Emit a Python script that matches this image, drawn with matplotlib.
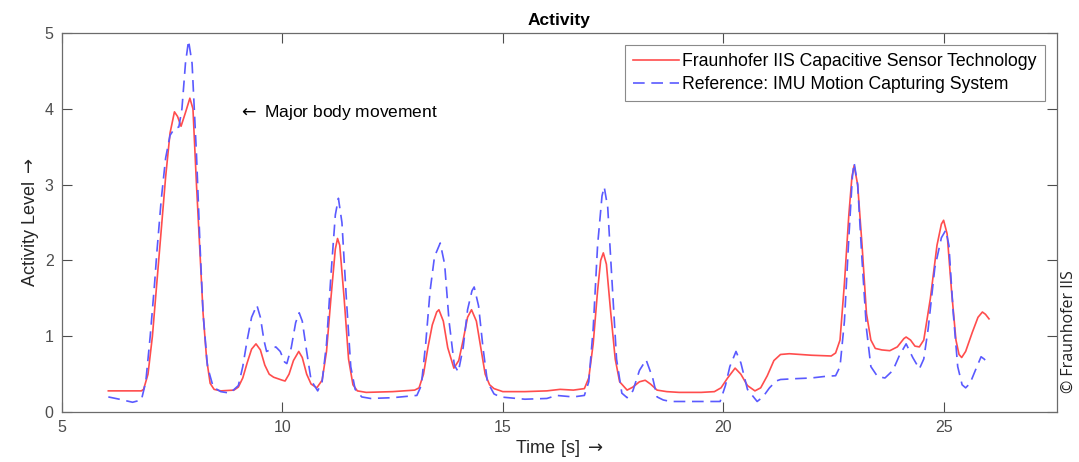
import matplotlib.pyplot as plt

plt.rcParams['font.family'] = ['Liberation Sans', 'DejaVu Sans']
plt.rcParams['mathtext.fontset'] = 'dejavusans'

# capacitive sensor (red, solid)
t_cap = [6.05, 6.4, 6.8, 6.85, 6.95, 7.05, 7.15, 7.25, 7.35, 7.45, 7.55, 7.62, 7.7, 7.8,
         7.9, 7.97, 8.05, 8.13, 8.2, 8.28, 8.36, 8.45, 8.6, 8.9, 9.0, 9.1, 9.2, 9.3,
         9.4, 9.5, 9.6, 9.7, 9.8, 9.9, 10.0, 10.06, 10.15, 10.25, 10.37, 10.45, 10.55,
         10.65, 10.78, 10.9, 11.0, 11.1, 11.2, 11.25, 11.3, 11.4, 11.5, 11.6, 11.7,
         11.9, 12.5, 13.0, 13.1, 13.2, 13.3, 13.4, 13.5, 13.55, 13.65, 13.75, 13.89,
         14.0, 14.1, 14.2, 14.29, 14.4, 14.5, 14.6, 14.7, 14.8, 15.0, 15.5, 16.0,
         16.3, 16.6, 16.85, 16.95, 17.05, 17.15, 17.22, 17.28, 17.35, 17.45, 17.55,
         17.65, 17.82, 17.95, 18.1, 18.23, 18.35, 18.5, 18.72, 19.0, 19.5, 19.8,
         19.95, 20.1, 20.27, 20.4, 20.55, 20.72, 20.85, 21.0, 21.15, 21.3, 21.5,
         22.0, 22.45, 22.55, 22.65, 22.75, 22.85, 22.92, 22.97, 23.05, 23.15, 23.25,
         23.35, 23.45, 23.6, 23.78, 23.95, 24.1, 24.15, 24.25, 24.35, 24.45, 24.55,
         24.7, 24.85, 24.95, 25.0, 25.08, 25.18, 25.28, 25.35, 25.41, 25.5, 25.65,
         25.78, 25.88, 25.95, 26.03]
cap = [0.28, 0.28, 0.28, 0.3, 0.5, 1.0, 1.7, 2.4, 3.1, 3.68, 3.96, 3.9, 3.77, 3.95,
       4.14, 4.0, 3.0, 2.1, 1.3, 0.7, 0.38, 0.3, 0.28, 0.29, 0.33, 0.45, 0.65, 0.83,
       0.9, 0.82, 0.62, 0.5, 0.46, 0.44, 0.42, 0.41, 0.5, 0.68, 0.8, 0.72, 0.5,
       0.37, 0.32, 0.42, 0.8, 1.5, 2.15, 2.29, 2.2, 1.5, 0.7, 0.36, 0.28,
       0.26, 0.27, 0.29, 0.32, 0.5, 0.85, 1.15, 1.32, 1.35, 1.2, 0.85, 0.58,
       0.68, 0.95, 1.25, 1.35, 1.2, 0.85, 0.5, 0.36, 0.31, 0.27, 0.27, 0.28,
       0.3, 0.29, 0.31, 0.45, 0.9, 1.6, 2.0, 2.1, 1.95, 1.3, 0.7,
       0.4, 0.29, 0.33, 0.4, 0.42, 0.37, 0.29, 0.27, 0.26, 0.26, 0.27,
       0.32, 0.45, 0.58, 0.5, 0.35, 0.28, 0.32, 0.48, 0.68, 0.76, 0.77,
       0.75, 0.74, 0.78, 0.95, 1.7, 2.6, 3.1, 3.25, 3.0, 2.2, 1.3,
       0.95, 0.84, 0.82, 0.81, 0.86, 0.97, 0.99, 0.95, 0.87, 0.86, 0.95,
       1.5, 2.2, 2.48, 2.53, 2.35, 1.6, 0.95, 0.76, 0.72, 0.8, 1.05,
       1.25, 1.32, 1.29, 1.23]

# IMU reference (blue, dashed)
t_imu = [6.05, 6.3, 6.6, 6.8, 6.9, 7.0, 7.1, 7.15, 7.25, 7.35, 7.45, 7.55, 7.65, 7.72,
         7.8, 7.87, 7.95, 8.05, 8.13, 8.2, 8.3, 8.43, 8.6, 8.81, 9.0, 9.1, 9.2, 9.3,
         9.42, 9.5, 9.58, 9.64, 9.75, 9.85, 9.95, 10.05, 10.1, 10.2, 10.3, 10.38,
         10.45, 10.55, 10.65, 10.8, 10.9, 11.0, 11.1, 11.2, 11.27, 11.35, 11.45,
         11.55, 11.65, 11.8, 12.0, 12.5, 13.05, 13.15, 13.25, 13.35, 13.45, 13.58,
         13.68, 13.78, 13.9, 13.99, 14.1, 14.2, 14.3, 14.35, 14.45, 14.55, 14.65,
         14.8, 14.94, 15.5, 16.0, 16.22, 16.6, 16.85, 16.95, 17.05, 17.15, 17.25,
         17.3, 17.38, 17.48, 17.58, 17.7, 17.82, 17.95, 18.1, 18.25, 18.4, 18.5,
         18.64, 18.8, 19.5, 19.93, 20.05, 20.15, 20.29, 20.4, 20.55, 20.77, 20.9,
         21.05, 21.2, 21.3, 21.6, 22.0, 22.3, 22.55, 22.65, 22.75, 22.85, 22.93,
         22.97, 23.05, 23.15, 23.25, 23.35, 23.5, 23.67, 23.85, 24.0, 24.15, 24.3,
         24.45, 24.55, 24.65, 24.8, 24.95, 25.05, 25.12, 25.22, 25.32, 25.42, 25.5,
         25.6, 25.72, 25.85, 25.92, 26.03]
imu = [0.2, 0.17, 0.13, 0.16, 0.4, 1.0, 1.7, 2.1, 2.8, 3.35, 3.65, 3.74, 3.76, 4.0,
       4.6, 4.9, 4.6, 3.4, 2.2, 1.3, 0.6, 0.33, 0.27, 0.25, 0.35, 0.6, 0.95, 1.25,
       1.41, 1.25, 0.95, 0.8, 0.83, 0.86, 0.8, 0.66, 0.64, 0.85, 1.18, 1.31,
       1.2, 0.8, 0.42, 0.28, 0.4, 0.9, 1.8, 2.6, 2.82, 2.5, 1.5,
       0.6, 0.3, 0.2, 0.18, 0.19, 0.22, 0.35, 0.9, 1.6, 2.05, 2.23,
       1.95, 1.2, 0.62, 0.53, 0.85, 1.35, 1.6, 1.65, 1.4, 0.85, 0.4,
       0.24, 0.2, 0.17, 0.18, 0.22, 0.2, 0.22, 0.4, 1.1, 2.2, 2.85,
       2.97, 2.7, 1.7, 0.7, 0.25, 0.19, 0.28, 0.55, 0.69, 0.45, 0.2,
       0.16, 0.14, 0.14, 0.14, 0.35, 0.6, 0.8, 0.65, 0.3, 0.14, 0.2,
       0.32, 0.41, 0.43, 0.44, 0.45, 0.47, 0.48, 0.6, 1.2, 2.3, 3.1,
       3.29, 3.0, 2.0, 1.1, 0.6, 0.47, 0.45, 0.55, 0.75, 0.9, 0.72,
       0.57, 0.7, 1.1, 1.9, 2.3, 2.4, 2.2, 1.3, 0.6, 0.36, 0.32,
       0.38, 0.55, 0.73, 0.7, 0.63]

fig = plt.figure(figsize=(10.79, 4.62), dpi=100)
ax = fig.add_axes([0.0575, 0.108, 0.922, 0.8206])

ax.plot(t_cap, cap, color='#ff4d4d', lw=1.2, label='Fraunhofer IIS Capacitive Sensor Technology')
ax.plot(t_imu, imu, color='#5a5aff', lw=1.2, dashes=(7, 4),
        label='Reference: IMU Motion Capturing System')

ax.set_xlim(5, 27.57)
ax.set_ylim(0, 5)
ax.set_xticks([5, 10, 15, 20, 25])
ax.set_yticks([0, 1, 2, 3, 4, 5])
ax.tick_params(direction='in', length=7, width=0.8, colors='#4d4d4d',
               labelsize=11.5, top=True, right=True, pad=6)
for s in ax.spines.values():
    s.set_color('#6b6b6b')
    s.set_linewidth(0.9)

ax.set_title('Activity', fontsize=12.5, fontweight='bold', pad=6)
ax.set_xlabel(r'Time [s] $\rightarrow$', fontsize=13, color='#262626', labelpad=2)
ax.set_ylabel(r'Activity Level $\rightarrow$', fontsize=13, color='#262626', labelpad=3)

ax.text(9.0, 3.95, r'$\leftarrow$ Major body movement', fontsize=12.5, va='center', ha='left')

leg = ax.legend(loc='upper right', fontsize=12.7, frameon=True, fancybox=False,
                edgecolor='#8a8a8a', framealpha=1, handlelength=2.6, handletextpad=0.2,
                borderpad=0.45, labelspacing=0.35, borderaxespad=0.7)
leg.get_frame().set_linewidth(0.8)

fig.text(0.9905, 0.283, '\u00a9 Fraunhofer IIS', rotation=90, fontsize=11.5,
         family=['Open Sans', 'DejaVu Sans'], color='#222222', ha='center', va='center')

fig.savefig('out.png', dpi=100)
